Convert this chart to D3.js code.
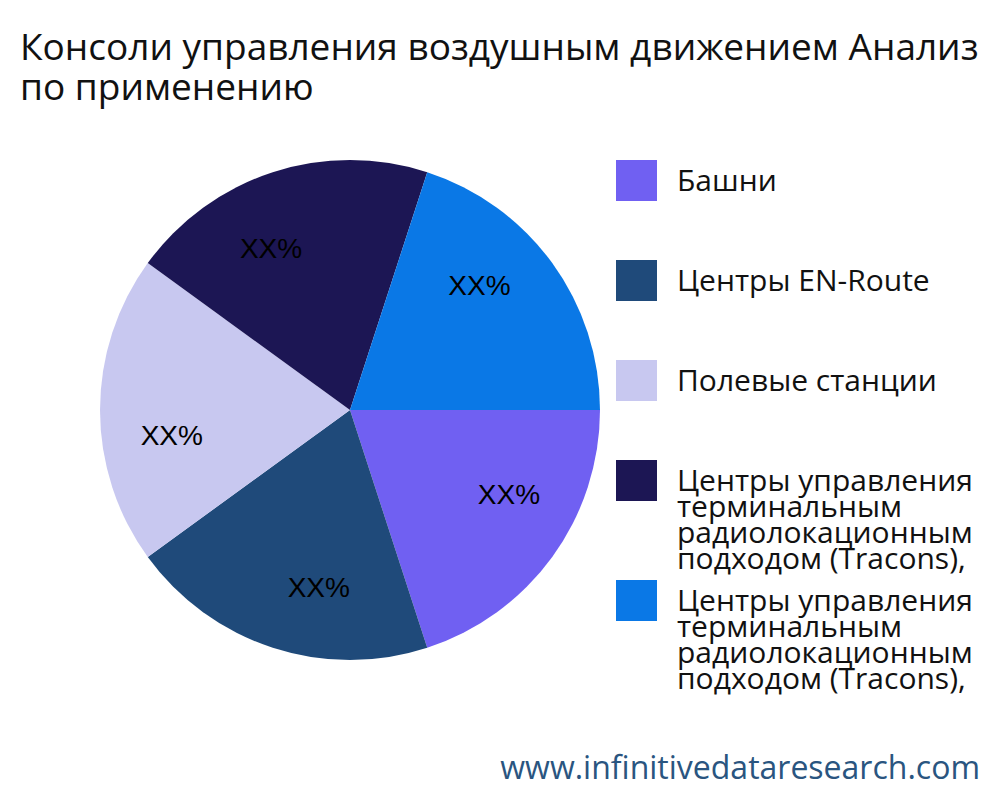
<!DOCTYPE html>
<html><head><meta charset="utf-8">
<script src="https://cdn.jsdelivr.net/npm/d3@7"></script>
<style>body{margin:0;background:#fff;font-family:"Open Sans","Noto Sans",sans-serif;}</style>
</head><body><svg id="c" width="1000" height="800"></svg>
<script>
const categories = ["Башни", "Центры EN-Route", "Полевые станции",
  "Центры управления терминальным радиолокационным подходом (Tracons),",
  "Центры управления терминальным радиолокационным подходом (Tracons),"];
const legendLines = [["Башни"], ["Центры EN-Route"], ["Полевые станции"],
  ["Центры управления", "терминальным", "радиолокационным", "подходом (Tracons),"],
  ["Центры управления", "терминальным", "радиолокационным", "подходом (Tracons),"]];
const values = [20, 20, 20, 20, 20];
const labels = ["XX%", "XX%", "XX%", "XX%", "XX%"];
const colors = ["#7060f2", "#1f4a7a", "#c8c8f0", "#1c1654", "#0a78e6"];

const svg = d3.select("#c");
svg.append("text").attr("x", 20).attr("y", 60).attr("font-size", 37).attr("fill", "#111")
  .text("Консоли управления воздушным движением Анализ");
svg.append("text").attr("x", 20).attr("y", 100).attr("font-size", 37).attr("fill", "#111")
  .text("по применению");

const r = 250;
const g = svg.append("g").attr("transform", "translate(350,410)");
const pie = d3.pie().sort(null).startAngle(Math.PI / 2).endAngle(Math.PI / 2 + 2 * Math.PI);
const arcs = pie(values);
const arc = d3.arc().innerRadius(0).outerRadius(r);
const shift = 0.14;
const labelArc = d3.arc().innerRadius(r * 0.72).outerRadius(r * 0.72);
g.selectAll("path").data(arcs).join("path")
  .attr("d", arc).attr("fill", (d, i) => colors[i]);
g.selectAll("text").data(arcs).join("text")
  .attr("transform", d => `translate(${labelArc.centroid({startAngle: d.startAngle - shift, endAngle: d.endAngle - shift})})`)
  .attr("text-anchor", "middle").attr("dy", "0.35em")
  .attr("font-family", "Liberation Sans, Arial, sans-serif")
  .attr("font-size", 28).attr("fill", "#000")
  .text((d, i) => labels[i]);

const legendY = [160, 260, 360, 460, 580];
const lg = svg.append("g");
legendLines.forEach((lines, i) => {
  lg.append("rect").attr("x", 616).attr("y", legendY[i]).attr("width", 41).attr("height", 41)
    .attr("fill", colors[i]);
  const t = lg.append("text").attr("x", 677).attr("y", legendY[i] + 31)
    .attr("font-size", 30).attr("fill", "#111");
  lines.forEach((l, j) => t.append("tspan").attr("x", 677).attr("dy", j ? 26 : 0).text(l));
});

svg.append("text").attr("x", 980).attr("y", 779).attr("text-anchor", "end")
  .attr("font-size", 32).attr("fill", "#2a5580").text("www.infinitivedataresearch.com");
</script></body></html>
